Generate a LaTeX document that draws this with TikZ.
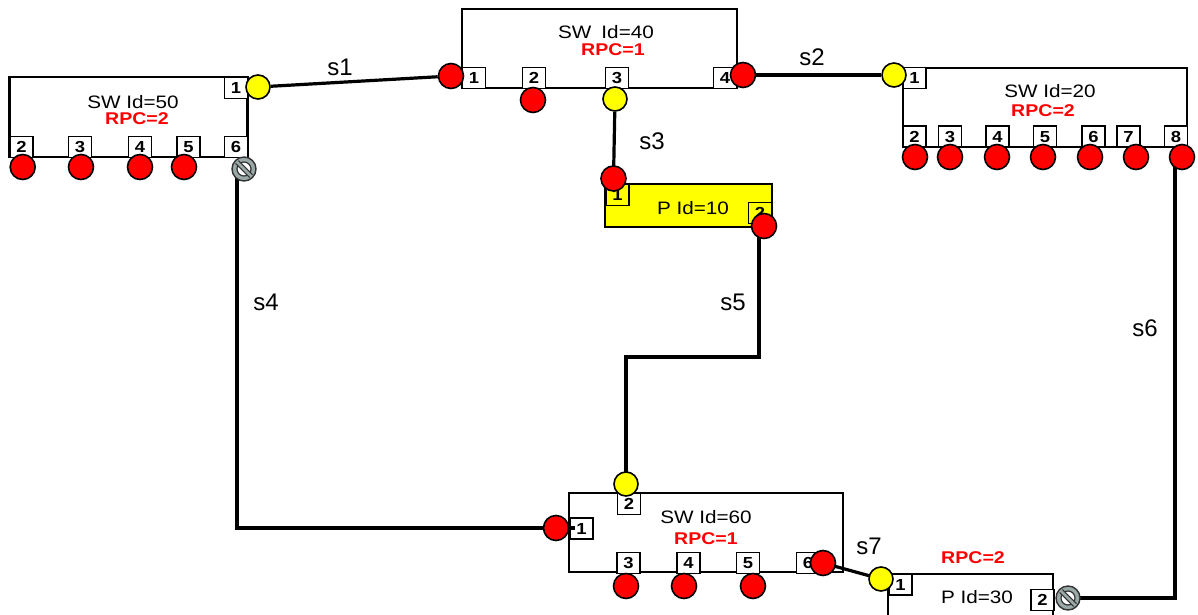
\documentclass[tikz,border=0pt]{standalone}
\usepackage{fontspec}
\setmainfont{Liberation Sans}
\newfontfamily\widefont[FakeStretch=1.15]{Liberation Sans}
\definecolor{portred}{HTML}{FF0000}
\definecolor{portyellow}{HTML}{FFFF00}
\definecolor{ringgray}{HTML}{9AA8A8}
\tikzset{
  unit/.style={draw, line width=2.2pt, fill=white},
  pbox/.style={draw, line width=1.2pt, fill=white, minimum width=23pt, minimum height=21pt,
    inner sep=0pt, font=\widefont\fontsize{16}{16}\selectfont\bfseries, text depth=0pt},
  title/.style={font=\widefont\fontsize{18}{20}\selectfont, inner sep=0pt},
  rpc/.style={font=\widefont\fontsize{17}{18}\selectfont\bfseries, text=portred, inner sep=0pt},
  slabel/.style={font=\fontsize{24}{26}\selectfont, inner sep=0pt},
  link/.style={line width=3.2pt, black},
  redport/.style={circle, draw=black, line width=1.6pt, fill=portred, minimum size=25pt, inner sep=0pt},
  yelport/.style={circle, draw=black, line width=1.6pt, fill=portyellow, minimum size=24pt, inner sep=0pt},
  blocked/.style={circle, draw=black!80, line width=1.4pt, fill=ringgray, minimum size=24pt, inner sep=0pt,
    path picture={
      \draw[black!80, line width=1.2pt, fill=white] (path picture bounding box.center) circle (7pt);
      \draw[black!80, line width=5pt] ([shift={(-7,-7)}]path picture bounding box.center) -- ([shift={(7,7)}]path picture bounding box.center);
      \draw[ringgray, line width=2.6pt] ([shift={(-8,-8)}]path picture bounding box.center) -- ([shift={(8,8)}]path picture bounding box.center);
    }},
}
\begin{document}
\begin{tikzpicture}[x=1pt, y=-1pt]
\clip (0,0) rectangle (1198,615);
\fill[white] (0,0) rectangle (1198,615);

% ---- unit boxes ----
\draw[unit] (9.5,77) rectangle (247.5,157);
\draw[unit] (462,9) rectangle (737,88);
\draw[unit] (903,68) rectangle (1187,147);
\draw[unit, fill=portyellow] (605,184) rectangle (772,227);
\draw[unit] (569,493) rectangle (843,572);
\draw[unit] (888,574) rectangle (1053,640);

% ---- titles ----
\node[title] (t50) at (133,102) {SW Id=50};
\node[rpc]   (r50) at (137,119) {RPC=2};
\node[title] (t40) at (606,32) {SW\hspace{10pt}Id=40};
\node[rpc]   (r40) at (613,50) {RPC=1};
\node[title] (t20) at (1050,91) {SW Id=20};
\node[rpc]   (r20) at (1043,111) {RPC=2};
\node[title] (t10) at (693,208) {P Id=10};
\node[title] (t60) at (706,517) {SW Id=60};
\node[rpc]   (r60) at (706,539) {RPC=1};
\node[title] (t30) at (977,597) {P Id=30};
\node[rpc]   (r30) at (973,558) {RPC=2};

% ---- port number boxes ----
% SW 50
\node[pbox] (b50a) at (236,88) {1};
\node[pbox] (b50b) at (21.5,147) {2};
\node[pbox] (b50c) at (80,147) {3};
\node[pbox] (b50d) at (140,147) {4};
\node[pbox] (b50e) at (188.5,147) {5};
\node[pbox] (b50f) at (236,147) {6};
% SW 40
\node[pbox] (b40a) at (474,78) {1};
\node[pbox] (b40b) at (534,78) {2};
\node[pbox] (b40c) at (617,78) {3};
\node[pbox] (b40d) at (725,78) {4};
% SW 20
\node[pbox] (b20a) at (914.5,78) {1};
\node[pbox] (b20b) at (914.5,136.5) {2};
\node[pbox] (b20c) at (950,136.5) {3};
\node[pbox] (b20d) at (997.5,136.5) {4};
\node[pbox] (b20e) at (1045,136.5) {5};
\node[pbox] (b20f) at (1093.5,136.5) {6};
\node[pbox] (b20g) at (1128.5,136.5) {7};
\node[pbox] (b20h) at (1176,136.5) {8};
% P 10
\node[pbox, fill=portyellow] (b10a) at (617.5,195) {1};
\node[pbox, fill=portyellow] (b10b) at (760,213) {2};
% SW 60
\node[pbox] (b60a) at (581.5,528.5) {1};
\node[pbox] (b60b) at (629,504) {2};
\node[pbox] (b60c) at (628.5,563) {3};
\node[pbox] (b60d) at (688.5,563) {4};
\node[pbox] (b60e) at (748,563) {5};
\node[pbox] (b60f) at (808,563) {6};
% P 30
\node[pbox] (b30a) at (900.5,584.5) {1};
\node[pbox] (b30b) at (1042.5,600) {2};

% ---- port markers ----
\node[yelport] (p50a) at (258,87) {};
\node[redport] (p50b) at (22.7,167) {};
\node[redport] (p50c) at (81,167) {};
\node[redport] (p50d) at (140,167) {};
\node[redport] (p50e) at (184,167) {};
\coordinate (p50f) at (244,169);

\node[redport] (p40a) at (451,76) {};
\node[redport] (p40b) at (533,100) {};
\node[yelport] (p40c) at (615,99) {};
\node[redport] (p40d) at (743,75) {};

\node[yelport] (p20a) at (894,75) {};
\node[redport] (p20b) at (915,157) {};
\node[redport] (p20c) at (950,157) {};
\node[redport] (p20d) at (997,157) {};
\node[redport] (p20e) at (1043,157) {};
\node[redport] (p20f) at (1090,157) {};
\node[redport] (p20g) at (1136,157) {};
\coordinate (p20h) at (1182,157);

\coordinate (p10a) at (613.5,178.5);
\coordinate (p10b) at (764,226);

\coordinate (p60a) at (556,528);
\coordinate (p60b) at (626,484);
\node[redport] (p60c) at (626,586) {};
\node[redport] (p60d) at (684,586) {};
\node[redport] (p60e) at (753,586) {};
\coordinate (p60f) at (823,563);

\coordinate (p30a) at (881,579);
\coordinate (p30b) at (1068,598);

% ---- links ----
\draw[link] (p50a) -- (p40a);
\draw[link] (p40d) -- (p20a);
\draw[link] (p40c) -- (p10a);
\draw[link] ([xshift=-7pt]p50f) |- ([xshift=19pt]p60a);
\draw[link] ([xshift=-5pt]p10b) |- (626,357) -- (p60b);
\draw[link] ([xshift=-7pt]p20h) |- (p30b);
\draw[link] (p60f) -- (p30a);

% ---- markers drawn over link ends ----
\node[blocked] (n50f) at (p50f) {};
\node[redport] (n20h) at (p20h) {};
\node[redport] (n10a) at (p10a) {};
\node[redport] (n10b) at (p10b) {};
\node[redport] (n60a) at (p60a) {};
\node[yelport] (n60b) at (p60b) {};
\node[redport] (n60f) at (p60f) {};
\node[yelport] (n30a) at (p30a) {};
\node[blocked] (n30b) at (p30b) {};

% ---- link labels ----
\node[slabel] (s1) at (340,67) {s1};
\node[slabel] (s2) at (812,57) {s2};
\node[slabel] (s3) at (652,141) {s3};
\node[slabel] (s4) at (266,302) {s4};
\node[slabel] (s5) at (733,302) {s5};
\node[slabel] (s6) at (1145,328) {s6};
\node[slabel] (s7) at (869,546) {s7};
\end{tikzpicture}
\end{document}
